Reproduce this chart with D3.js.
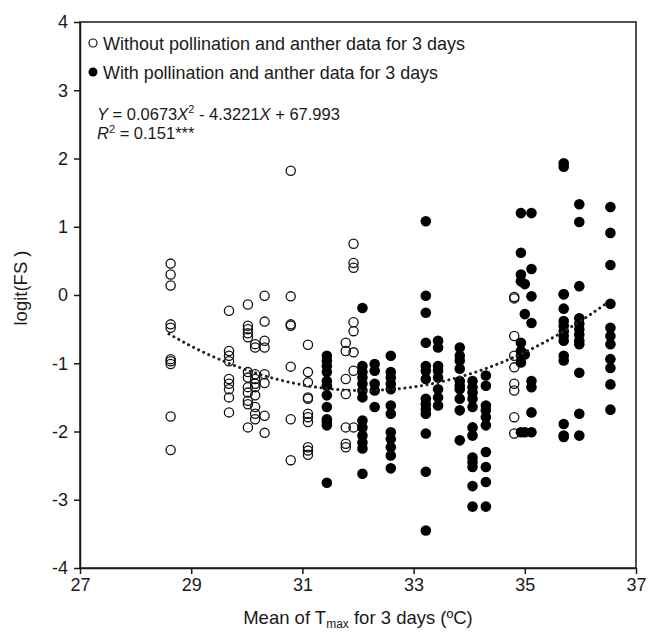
<!DOCTYPE html>
<html>
<head>
<meta charset="utf-8">
<script src="https://cdn.jsdelivr.net/npm/d3@7"></script>
<style>
  body { margin: 0; background: #fff; }
  svg text { font-family: "Liberation Sans", Arial, sans-serif; fill: #1a1a1a; }
</style>
</head>
<body>
<svg id="chart" width="656" height="634"></svg>
<script>
// open circles: without pollination and anther data
const openCols = [28.63, 29.68, 30.02, 30.15, 30.32, 30.79, 31.1, 31.78, 31.92, 34.81];
const openVals = [
  [0.46, 0.30, 0.14, -0.43, -0.48, -0.94, -0.97, -1.01, -1.78, -2.27],
  [-0.23, -0.82, -0.89, -0.97, -1.23, -1.30, -1.38, -1.50, -1.72],
  [-0.14, -0.45, -0.50, -0.56, -0.62, -1.13, -1.21, -1.35, -1.43, -1.55, -1.60, -1.94],
  [-0.72, -0.77, -1.16, -1.23, -1.30, -1.35, -1.47, -1.64, -1.74, -1.82],
  [-0.01, -0.39, -0.67, -0.77, -1.16, -1.29, -1.77, -2.02],
  [1.82, -0.02, -0.43, -0.45, -1.05, -1.82, -2.42],
  [-0.73, -1.13, -1.28, -1.50, -1.52, -1.74, -1.79, -1.86, -2.23, -2.28, -2.34],
  [-0.70, -0.82, -1.23, -1.45, -1.94, -2.18, -2.23],
  [0.75, 0.47, 0.40, -0.40, -0.53, -0.84, -1.11, -1.94],
  [-0.03, -0.05, -0.60, -0.89, -1.06, -1.30, -1.40, -1.79, -2.03]
];

// filled circles: with pollination and anther data
const filledCols = [31.44, 32.08, 32.3, 32.59, 33.22, 33.44, 33.83, 34.06, 34.3, 34.93, 35.0, 35.12, 35.7, 35.98, 36.54];
const filledVals = [
  [-0.89, -0.96, -1.04, -1.13, -1.26, -1.33, -1.47, -1.64, -1.82, -1.86, -1.91, -2.75],
  [-0.19, -1.04, -1.13, -1.21, -1.30, -1.40, -1.50, -1.84, -1.94, -2.06, -2.16, -2.25, -2.62],
  [-1.01, -1.11, -1.30, -1.40, -1.64],
  [-0.89, -1.13, -1.21, -1.30, -1.38, -1.62, -1.74, -2.01, -2.11, -2.23, -2.35, -2.54],
  [1.08, -0.01, -0.26, -0.70, -1.04, -1.11, -1.23, -1.52, -1.60, -1.67, -1.74, -2.03, -2.59, -3.45],
  [-0.67, -0.77, -1.04, -1.11, -1.21, -1.38, -1.50, -1.62],
  [-0.77, -0.89, -0.96, -1.08, -1.26, -1.33, -1.38, -1.52, -1.69, -2.13],
  [-1.26, -1.35, -1.43, -1.52, -1.64, -1.94, -2.06, -2.38, -2.45, -2.52, -2.80, -3.10],
  [-1.18, -1.33, -1.62, -1.69, -1.79, -1.91, -2.30, -2.52, -2.74, -3.10],
  [1.20, 0.62, 0.30, 0.20, -0.70, -0.82, -0.89, -0.99, -2.01],
  [0.16, -0.28, -0.87, -2.01],
  [1.20, 0.38, -0.02, -0.41, -1.26, -1.35, -1.72, -2.01],
  [1.93, 1.88, 0.01, 0.01, -0.20, -0.38, -0.45, -0.53, -0.60, -0.67, -0.89, -0.96, -1.89, -2.06, -2.08],
  [1.33, 1.07, 0.13, -0.34, -0.42, -0.50, -0.58, -0.67, -0.72, -1.14, -1.74, -2.06],
  [1.29, 0.91, 0.44, -0.13, -0.48, -0.60, -0.72, -0.94, -1.07, -1.31, -1.68]
];

// quadratic fit shown on the chart
const fitCoef = [0.0673, -4.3221, 67.993];
const fitRange = [28.6, 36.5];

const xTicks = [27, 29, 31, 33, 35, 37];
const yTicks = [-4, -3, -2, -1, 0, 1, 2, 3, 4];

const legendLabels = [
  'Without pollination and anther data for 3 days',
  'With pollination and anther data for 3 days'
];

const margin = { left: 80, right: 20, top: 22, bottom: 66 };
const W = 656, H = 634;

const svg = d3.select('#chart');
const x = d3.scaleLinear().domain([27, 37]).range([margin.left, W - margin.right]);
const y = d3.scaleLinear().domain([-4, 4]).range([H - margin.bottom, margin.top]);

// frame
svg.append('rect')
  .attr('x', x(27)).attr('y', y(4))
  .attr('width', x(37) - x(27)).attr('height', y(-4) - y(4))
  .attr('fill', 'none').attr('stroke', '#1a1a1a').attr('stroke-width', 1.5);

const xAxis = svg.append('g')
  .attr('transform', `translate(0,${y(-4)})`)
  .call(d3.axisBottom(x).tickValues(xTicks).tickFormat(d => String(d))
    .tickSize(6).tickSizeOuter(0).tickPadding(4));
const yAxis = svg.append('g')
  .attr('transform', `translate(${x(27)},0)`)
  .call(d3.axisLeft(y).tickValues(yTicks).tickFormat(d => String(d))
    .tickSize(6).tickSizeOuter(0).tickPadding(6));

for (const ax of [xAxis, yAxis]) {
  ax.select('.domain').attr('stroke', '#1a1a1a').attr('stroke-width', 1.5);
  ax.selectAll('.tick line').attr('stroke', '#1a1a1a').attr('stroke-width', 1.5);
  ax.selectAll('.tick text').attr('font-size', 18).attr('fill', '#1a1a1a')
    .attr('font-family', '"Liberation Sans", Arial, sans-serif');
}

const openPts = openCols.flatMap((c, i) => openVals[i].map(v => [c, v]));
const filledPts = filledCols.flatMap((c, i) => filledVals[i].map(v => [c, v]));

svg.append('g').selectAll('circle')
  .data(openPts).enter().append('circle')
  .attr('cx', d => x(d[0])).attr('cy', d => y(d[1]))
  .attr('r', 4.6)
  .attr('fill', 'none').attr('stroke', '#111').attr('stroke-width', 1.3);

svg.append('g').selectAll('circle')
  .data(filledPts).enter().append('circle')
  .attr('cx', d => x(d[0])).attr('cy', d => y(d[1]))
  .attr('r', 5.3)
  .attr('fill', '#000');

// fitted curve
const fitPts = d3.range(fitRange[0], fitRange[1] + 0.001, 0.05)
  .map(t => [t, fitCoef[0] * t * t + fitCoef[1] * t + fitCoef[2]]);
svg.append('path')
  .datum(fitPts)
  .attr('d', d3.line().x(d => x(d[0])).y(d => y(d[1])))
  .attr('fill', 'none').attr('stroke', '#222').attr('stroke-width', 3)
  .attr('stroke-dasharray', '0.1 5.5').attr('stroke-linecap', 'round');

// legend
const lg = svg.append('g');
lg.append('circle').attr('cx', 93).attr('cy', 43).attr('r', 4)
  .attr('fill', '#fff').attr('stroke', '#111').attr('stroke-width', 1.2);
lg.append('circle').attr('cx', 93).attr('cy', 72).attr('r', 4.5).attr('fill', '#000');
const legendLen = [362, 335];
lg.selectAll('text').data(legendLabels).enter().append('text')
  .attr('x', 103).attr('y', (d, i) => 49.5 + i * 29)
  .attr('font-size', 18.5)
  .attr('textLength', (d, i) => legendLen[i])
  .attr('lengthAdjust', 'spacingAndGlyphs')
  .text(d => d);

// equation
const eq = svg.append('text').attr('x', 97).attr('y', 120).attr('font-size', 16.5);
eq.append('tspan').attr('font-style', 'italic').text('Y');
eq.append('tspan').text(' = 0.0673');
eq.append('tspan').attr('font-style', 'italic').text('X');
eq.append('tspan').attr('font-size', 11).attr('dy', -7).text('2');
eq.append('tspan').attr('dy', 7).text(' - 4.3221');
eq.append('tspan').attr('font-style', 'italic').text('X');
eq.append('tspan').text(' + 67.993');

const r2 = svg.append('text').attr('x', 97).attr('y', 139).attr('font-size', 16.5);
r2.append('tspan').attr('font-style', 'italic').text('R');
r2.append('tspan').attr('font-size', 11).attr('dy', -6).text('2');
r2.append('tspan').attr('dy', 6).text(' = 0.151***');

// axis titles
const xt = svg.append('text')
  .attr('x', (x(27) + x(37)) / 2).attr('y', 624)
  .attr('text-anchor', 'middle').attr('font-size', 18.5);
xt.append('tspan').text('Mean of T');
xt.append('tspan').attr('font-size', 12).attr('dy', 4).text('max');
xt.append('tspan').attr('dy', -4).text(' for 3 days (ºC)');

svg.append('text')
  .attr('transform', `translate(27,288) rotate(-90)`)
  .attr('text-anchor', 'middle').attr('font-size', 18.5)
  .text('logit(FS )');
</script>
</body>
</html>
